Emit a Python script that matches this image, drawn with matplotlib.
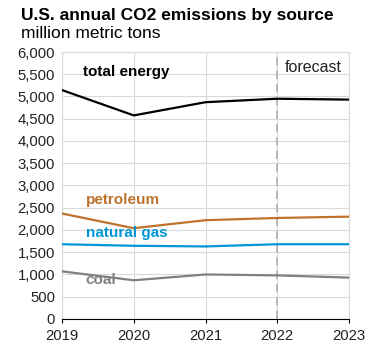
import matplotlib

matplotlib.use("Agg")
import matplotlib.pyplot as plt
from matplotlib.ticker import FuncFormatter

plt.rcParams["font.family"] = ["Liberation Sans", "DejaVu Sans"]

years = [2019, 2020, 2021, 2022, 2023]
total_energy = [5144, 4575, 4872, 4950, 4930]
petroleum = [2370, 2040, 2220, 2270, 2300]
natural_gas = [1680, 1645, 1630, 1680, 1680]
coal = [1070, 870, 1000, 980, 930]

BLACK = "#000000"
BROWN = "#BD732C"
BLUE = "#0096D7"
GRAY = "#808080"
GRID = "#D9D9D9"

fig = plt.figure(figsize=(3.67, 3.49), dpi=100)
ax = fig.add_axes([0.169, 0.086, 0.782, 0.765])

ax.plot(years, total_energy, color=BLACK, lw=1.6, zorder=3)
ax.plot(years, petroleum, color=BROWN, lw=1.6, zorder=3)
ax.plot(years, natural_gas, color=BLUE, lw=1.6, zorder=3)
ax.plot(years, coal, color=GRAY, lw=1.6, zorder=3)

ax.axvline(2022, color="#B0B0B0", lw=1.2, ls=(0, (5, 3)), zorder=2)

ax.set_xlim(2019, 2023)
ax.set_ylim(0, 6000)
ax.set_xticks(years)
ax.set_yticks(range(0, 6001, 500))
ax.yaxis.set_major_formatter(FuncFormatter(lambda v, p: f"{v:,.0f}"))
ax.grid(True, color=GRID, lw=0.8, zorder=0)
ax.tick_params(labelsize=10.7, colors="#222222")
ax.tick_params(axis="y", length=0, pad=5)
ax.tick_params(axis="x", length=3, width=0.8, color=BLACK, pad=4)
for s in ("top", "right", "left"):
    ax.spines[s].set_color(GRID)
ax.spines["bottom"].set_color(BLACK)

ax.text(2019.29, 5550, "total energy", fontsize=11, fontweight="bold", color=BLACK, va="center")
ax.text(2022.11, 5660, "forecast", fontsize=11.5, color="#222222", va="center")
ax.text(2019.33, 2675, "petroleum", fontsize=11, fontweight="bold", color=BROWN, va="center")
ax.text(2019.33, 1935, "natural gas", fontsize=11, fontweight="bold", color=BLUE, va="center")
ax.text(2019.33, 880, "coal", fontsize=11, fontweight="bold", color=GRAY, va="center")

fig.text(0.057, 0.957, "U.S. annual CO2 emissions by source", fontsize=12.5,
         fontweight="bold", va="center")
fig.text(0.057, 0.905, "million metric tons", fontsize=12.5, va="center")

fig.savefig("out.png", dpi=100)
